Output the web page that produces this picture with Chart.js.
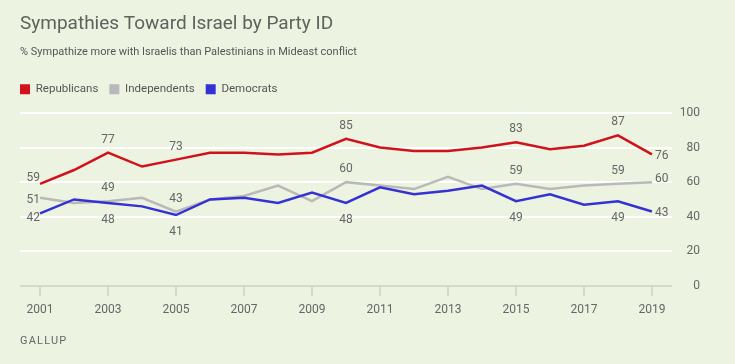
<!DOCTYPE html>
<html>
<head>
<meta charset="utf-8">
<script src="https://cdn.jsdelivr.net/npm/chart.js@4.4.1/dist/chart.umd.min.js"></script>
<style>
html,body{margin:0;padding:0;background:#edf3e1;}
#wrap{position:relative;width:735px;height:364px;}
#source{position:absolute;left:20px;top:335px;font:11px Roboto,sans-serif;line-height:11px;letter-spacing:1.2px;color:#666;}
</style>
</head>
<body>
<div id="wrap">
<canvas id="chart" width="735" height="364"></canvas>
<div id="source">GALLUP</div>
</div>
<script>
const years=[2001,2002,2003,2004,2005,2006,2007,2008,2009,2010,2011,2012,2013,2014,2015,2016,2017,2018,2019];
const republicans=[59,67,77,69,73,77,77,76,77,85,80,78,78,80,83,79,81,87,76];
const independents=[51,48,49,51,43,50,52,58,49,60,58,56,63,56,59,56,58,59,60];
const democrats=[42,50,48,46,41,50,51,48,54,48,57,53,55,58,49,53,47,49,43];
const xTickYears=[2001,2003,2005,2007,2009,2011,2013,2015,2017,2019];
const yTicks=[0,20,40,60,80,100];
const labelYears=[2001,2003,2005,2010,2015,2018,2019];

const FONT='Roboto, sans-serif';
const GREY_TXT='#666';

// where each series puts its value labels (first, middle, last point)
const labelPlace={
  Republicans:{first:-6,mid:-13,last:2},
  Independents:{first:2,mid:-13,last:-3},
  Democrats:{first:5,mid:17,last:1}
};

const toPts=arr=>years.map((y,i)=>({x:y,y:arr[i]}));

const valueLabels={
  id:'valueLabels',
  afterDatasetsDraw(chart){
    const ctx=chart.ctx;
    ctx.save();
    ctx.font='12px '+FONT;
    ctx.fillStyle=GREY_TXT;
    ctx.textBaseline='middle';
    chart.data.datasets.forEach((ds,di)=>{
      const meta=chart.getDatasetMeta(di);
      const place=labelPlace[ds.label];
      meta.data.forEach((pt,i)=>{
        if(!labelYears.includes(years[i])) return;
        const v=ds.data[i].y;
        if(i===0){
          ctx.textAlign='right';
          ctx.fillText(v,pt.x,pt.y+place.first);
        }else if(i===years.length-1){
          ctx.textAlign='left';
          ctx.fillText(v,pt.x+3,pt.y+place.last);
        }else{
          ctx.textAlign='center';
          ctx.fillText(v,pt.x,pt.y+place.mid);
        }
      });
    });
    ctx.restore();
  }
};

// legend starts at the same left edge as the title
const legendNudge={
  id:'legendNudge',
  afterLayout(chart){
    const l=chart.legend;
    l.left-=11; l.right-=11;
  }
};

new Chart(document.getElementById('chart'),{
  type:'line',
  data:{
    datasets:[
      {label:'Republicans',data:toPts(republicans),borderColor:'#d0121c',backgroundColor:'#d0121c',order:1},
      {label:'Independents',data:toPts(independents),borderColor:'#b9b9b9',backgroundColor:'#b9b9b9',order:2},
      {label:'Democrats',data:toPts(democrats),borderColor:'#3432d2',backgroundColor:'#3432d2',order:0}
    ]
  },
  options:{
    responsive:false,
    animation:false,
    devicePixelRatio:1,
    elements:{
      line:{borderWidth:2.5,tension:0,fill:false},
      point:{radius:0,hoverRadius:0}
    },
    layout:{padding:{left:20,right:35,top:0,bottom:38}},
    plugins:{
      title:{display:true,text:'Sympathies Toward Israel by Party ID',align:'start',color:'#5f625d',
        font:{family:FONT,size:19,weight:'normal'},padding:{top:13,bottom:10}},
      subtitle:{display:true,text:'% Sympathize more with Israelis than Palestinians in Mideast conflict',align:'start',color:'#555',
        font:{family:FONT,size:11},padding:{top:0,bottom:13.4}},
      legend:{
        align:'start',
        labels:{
          boxWidth:10,boxHeight:10,padding:11,color:'#555',font:{family:FONT,size:11.5},
          generateLabels(chart){
            const items=Chart.defaults.plugins.legend.labels.generateLabels(chart);
            items.forEach(it=>{it.lineWidth=0;});
            return items.sort((a,b)=>a.datasetIndex-b.datasetIndex);
          }
        }
      },
      tooltip:{enabled:false}
    },
    scales:{
      x:{
        type:'linear',min:2000.41,max:2019.59,
        afterBuildTicks(s){s.ticks=xTickYears.map(v=>({value:v}));},
        grid:{display:true,drawOnChartArea:false,drawTicks:true,tickLength:10,color:'#d5d9cc',lineWidth:2},
        border:{display:false},
        ticks:{padding:7,color:GREY_TXT,font:{family:FONT,size:12},maxRotation:0,autoSkip:false,callback:v=>String(v)},
        afterFit(s){s.height=40;}
      },
      xTop:{
        type:'linear',position:'top',display:true,
        grid:{display:false},ticks:{display:false},border:{display:false},
        afterFit(s){s.height=8;}
      },
      y:{
        position:'right',min:0,max:100,
        afterBuildTicks(s){s.ticks=yTicks.map(v=>({value:v}));},
        grid:{color:c=>c.tick.value===0?'#d5d9cc':'#ffffff',lineWidth:2,drawTicks:false},
        border:{display:false},
        ticks:{padding:9,crossAlign:'far',color:GREY_TXT,font:{family:FONT,size:12}},
        afterFit(s){s.width=28;}
      }
    }
  },
  plugins:[valueLabels,legendNudge]
});
</script>
</body>
</html>
